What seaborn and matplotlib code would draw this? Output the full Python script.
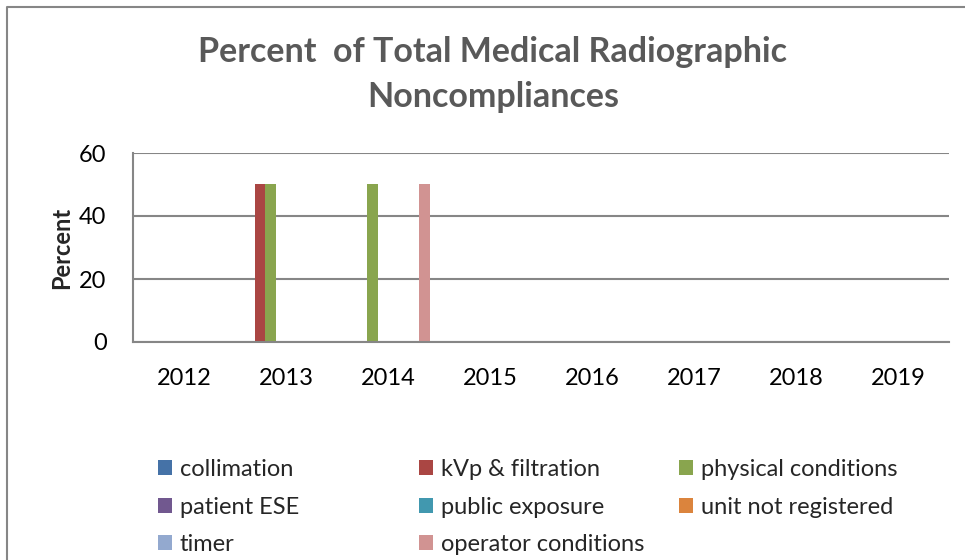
import pandas as pd
import matplotlib
matplotlib.use('Agg')
import matplotlib.pyplot as plt
from matplotlib.lines import Line2D
import seaborn as sns

# data
years = ['2012', '2013', '2014', '2015', '2016', '2017', '2018', '2019']
categories = ['collimation', 'kVp & filtration', 'physical conditions', 'patient ESE',
              'public exposure', 'unit not registered', 'timer', 'operator conditions']
collimation = [0, 0, 0, 0, 0, 0, 0, 0]
kvp_filtration = [0, 50, 0, 0, 0, 0, 0, 0]
physical_conditions = [0, 50, 50, 0, 0, 0, 0, 0]
patient_ese = [0, 0, 0, 0, 0, 0, 0, 0]
public_exposure = [0, 0, 0, 0, 0, 0, 0, 0]
unit_not_registered = [0, 0, 0, 0, 0, 0, 0, 0]
timer = [0, 0, 0, 0, 0, 0, 0, 0]
operator_conditions = [0, 0, 50, 0, 0, 0, 0, 0]

colors = ['#4572A7', '#AA4643', '#89A54E', '#71588F',
          '#4198AF', '#DB843D', '#93A9CF', '#D19392']

series = [collimation, kvp_filtration, physical_conditions, patient_ese,
          public_exposure, unit_not_registered, timer, operator_conditions]

rows = []
for cat, vals in zip(categories, series):
    for yr, v in zip(years, vals):
        rows.append({'year': yr, 'category': cat, 'percent': v})
df = pd.DataFrame(rows)

sns.set_theme(style='white')
plt.rcParams['font.family'] = ['Lato', 'DejaVu Sans']

fig = plt.figure(figsize=(9.65, 5.6), dpi=100)
ax = fig.add_axes([133/965, 1 - 342/560, (949 - 133)/965, (342 - 153)/560])

sns.barplot(data=df, x='year', y='percent', hue='category', hue_order=categories,
            palette=colors, saturation=1, width=0.82, linewidth=0, ax=ax)

ax.set_ylim(0, 60)
ax.set_yticks([0, 20, 40, 60])
ax.set_xlim(-0.5, 7.5)
ax.yaxis.grid(True, color='#868686', linewidth=1.5)
ax.set_axisbelow(True)
for s in ['top', 'right']:
    ax.spines[s].set_visible(False)
for s in ['left', 'bottom']:
    ax.spines[s].set_color('#868686')
    ax.spines[s].set_linewidth(1.5)
ax.tick_params(axis='both', length=0, labelsize=17, colors='black')
ax.tick_params(axis='x', pad=19)
ax.tick_params(axis='y', pad=19)
ax.set_xlabel('')
ax.set_ylabel('Percent', fontsize=17, fontweight='bold', labelpad=4)

fig.text(493/965, 1 - 52/560, 'Percent  of Total Medical Radiographic',
         ha='center', va='center', fontsize=24.5, fontweight='bold', color='#595959')
fig.text(493/965, 1 - 97/560, 'Noncompliances',
         ha='center', va='center', fontsize=24.5, fontweight='bold', color='#595959')

# legend: Excel lays it out row-wise in three fixed-width columns
handles, labels = ax.get_legend_handles_labels()
ax.get_legend().remove()
col_x = [158, 419, 679]
for c, x in enumerate(col_x):
    idx = list(range(c, len(categories), 3))
    fig.legend([handles[i] for i in idx], [labels[i] for i in idx],
               loc='upper left', bbox_to_anchor=(x/965, 1 - 459/560),
               frameon=False, fontsize=17,
               handlelength=0.6, handleheight=0.6, handletextpad=0.33,
               labelspacing=0.7, borderaxespad=0, borderpad=0)

# chart border (left and top edges visible)
fig.add_artist(Line2D([7/965, 7/965, 1.0], [0.0, 1 - 7/560, 1 - 7/560],
                      transform=fig.transFigure, color='#868686', linewidth=1.5))

fig.savefig('out.png', dpi=100)
